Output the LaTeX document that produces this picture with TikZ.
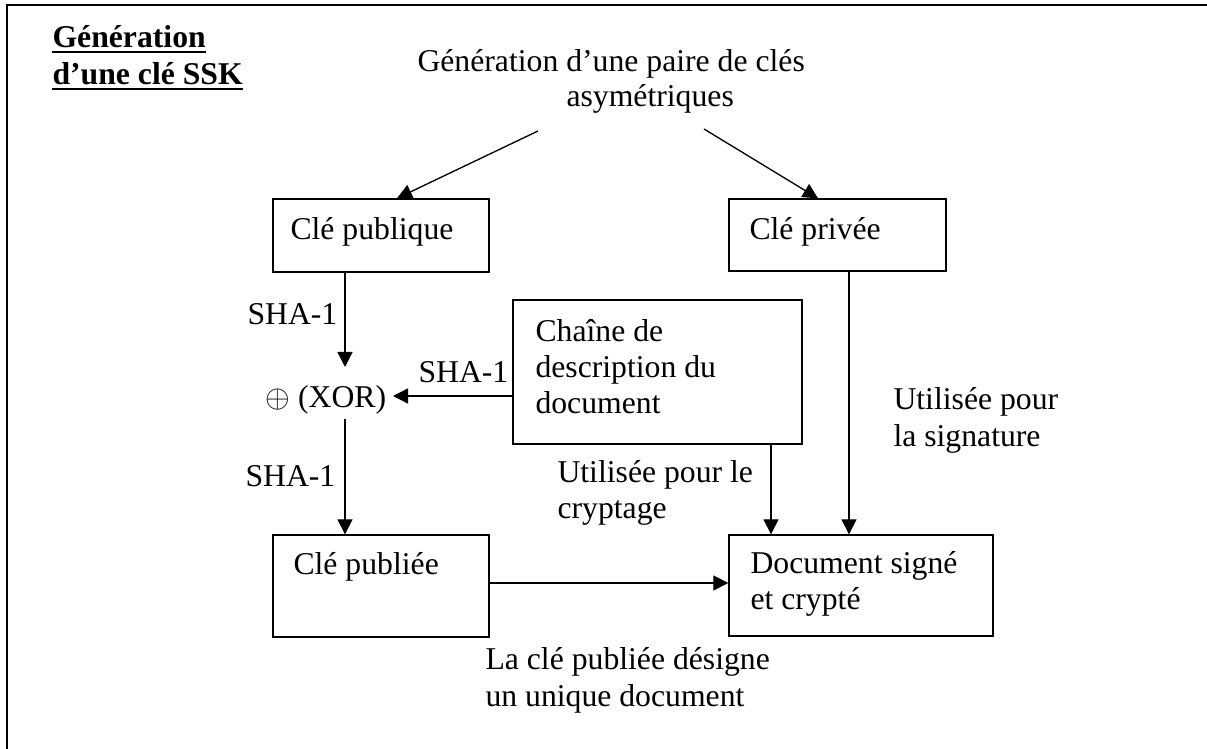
\documentclass[tikz,border=0pt]{standalone}
\usepackage{fontspec}
\setmainfont{Liberation Serif}
\usetikzlibrary{arrows.meta,fit}
\begin{document}
\begin{tikzpicture}[x=0.3785pt,y=-0.3785pt,
  every node/.style={font=\fontsize{12pt}{13.8pt}\selectfont},
  txt/.style={anchor=base west,inner sep=0pt,align=left},
  box/.style={draw,line width=0.5pt,inner sep=0pt,rectangle},
  arr/.style={draw,line width=0.5pt,-{Triangle[length=5.7pt,width=5.7pt]}},
  frame/.style={draw,line width=0.8pt},
  uline/.style={draw,line width=0.8pt}]
\useasboundingbox (0,0) rectangle (1207,749);
\clip (0,0) rectangle (1207,749);
% outer frame, open towards the right and bottom
\draw[frame] (7,760) -- (7,5) -- (1220,5);

% title
\node[txt,font=\fontsize{12pt}{13.8pt}\selectfont\bfseries] (t1) at (52,48) {Génération};
\node[txt,font=\fontsize{12pt}{13.8pt}\selectfont\bfseries] (t2) at (52,85) {d’une clé SSK};
\draw[uline] ([yshift=-1.45pt]t1.base west) -- ([yshift=-1.45pt]t1.base east);
\draw[uline] ([yshift=-1.6pt]t2.base west) -- ([yshift=-1.6pt]t2.base east);

% key pair generation
\node[txt] (gen1) at (417,72) {Génération d’une paire de clés};
\node[txt] (gen2) at (566,107) {asymétriques};
\coordinate (genL) at (538,131);
\coordinate (genR) at (704,129);

% boxes
\node[box,fit={(273,199) (489,272)}] (pub) {};
\node[box,fit={(729,199) (946,271)}] (priv) {};
\node[box,fit={(513,300) (802,444)}] (chaine) {};
\node[box,fit={(273,535) (489,637)}] (publiee) {};
\node[box,fit={(729,535) (993,636)}] (doc) {};

% box texts
\node[txt] (pubtxt) at (290,240) {Clé publique};
\node[txt] (privtxt) at (749,240) {Clé privée};
\node[txt] (ch1) at (535,342) {Chaîne de};
\node[txt] (ch2) at (535,378) {description du};
\node[txt] (ch3) at (535,414) {document};
\node[txt] (publtxt) at (293,575) {Clé publiée};
\node[txt] (doc1) at (750,574) {Document signé};
\node[txt] (doc2) at (750,610) {et crypté};

% XOR
\node[txt] (xor) at (265,408) {$\oplus$ (XOR)};
\coordinate (xorN) at (345,367);
\coordinate (xorS) at (345,419);
\coordinate (xorE) at (393,396);

% arrow end points on boxes
\coordinate (pubIn) at (397,199);
\coordinate (privIn) at (818,199);
\coordinate (encX) at (771,0);
\coordinate (sigX) at (849,0);
\coordinate (pkY) at (0,583);

% connectors
\draw[arr] (genL) -- (pub.north -| pubIn);
\draw[arr] (genR) -- (priv.north -| privIn);
\draw[arr] (pub.south -| xorN) -- (xorN);
\draw[arr] (chaine.west |- xorE) -- (xorE);
\draw[arr] (xorS) -- (publiee.north -| xorS);
\draw[arr] (chaine.south -| encX) -- (doc.north -| encX);
\draw[arr] (priv.south -| sigX) -- (doc.north -| sigX);
\draw[arr] (publiee.east |- pkY) -- (doc.west |- pkY);

% labels
\node[txt] (sha1) at (247,325) {SHA-1};
\node[txt] (sha2) at (418,383) {SHA-1};
\node[txt] (sha3) at (245,487) {SHA-1};
\node[txt] (enc1) at (557,483) {Utilisée pour le};
\node[txt] (enc2) at (557,519) {cryptage};
\node[txt] (sig1) at (893,410) {Utilisée pour};
\node[txt] (sig2) at (893,447) {la signature};
\node[txt] (uni1) at (485,670) {La clé publiée désigne};
\node[txt] (uni2) at (485,707) {un unique document};
\end{tikzpicture}
\end{document}
